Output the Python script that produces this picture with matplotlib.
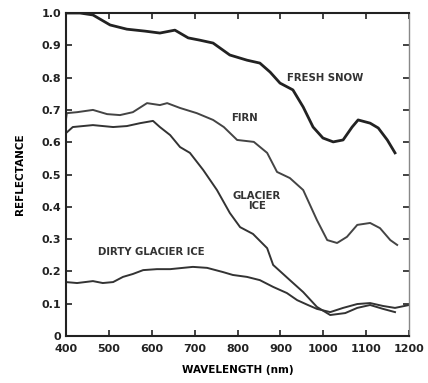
import numpy as np
import matplotlib
matplotlib.use('Agg')
import matplotlib.pyplot as plt

# Spectral reflectance curves
snow_wl = [400, 433, 463, 503, 542, 584, 619, 654, 685, 712, 743, 782, 822, 852, 876,
           899, 929, 953, 976, 999, 1023, 1046, 1067, 1081, 1109, 1128, 1149, 1167]
snow_r = [1.0, 1.0, 0.994, 0.963, 0.950, 0.944, 0.938, 0.947, 0.923, 0.916, 0.907, 0.870,
          0.854, 0.845, 0.817, 0.783, 0.762, 0.709, 0.647, 0.613, 0.601, 0.607, 0.647,
          0.669, 0.659, 0.644, 0.607, 0.567]

firn_wl = [400, 402, 426, 463, 496, 526, 556, 589, 619, 636, 666, 705, 743, 768, 799,
           838, 869, 892, 922, 953, 985, 1009, 1032, 1055, 1079, 1109, 1132, 1156, 1172]
firn_r = [0.669, 0.690, 0.693, 0.700, 0.687, 0.684, 0.693, 0.721, 0.715, 0.721, 0.706,
          0.690, 0.669, 0.647, 0.607, 0.601, 0.567, 0.508, 0.489, 0.452, 0.359, 0.297,
          0.288, 0.307, 0.344, 0.350, 0.334, 0.297, 0.282]

ice_wl = [400, 416, 463, 510, 542, 573, 603, 619, 643, 666, 689, 720, 752, 782, 806,
          836, 869, 883, 922, 953, 985, 1016, 1051, 1079, 1109, 1139, 1167]
ice_r = [0.628, 0.647, 0.653, 0.647, 0.650, 0.659, 0.666, 0.647, 0.622, 0.585, 0.567,
         0.514, 0.452, 0.381, 0.337, 0.316, 0.272, 0.220, 0.173, 0.136, 0.090, 0.065,
         0.071, 0.087, 0.096, 0.084, 0.074]

dirty_wl = [400, 426, 463, 486, 510, 533, 556, 580, 612, 643, 673, 696, 729, 766, 789,
            822, 852, 883, 915, 939, 964, 985, 1016, 1046, 1079, 1109, 1139, 1167, 1200]
dirty_r = [0.167, 0.164, 0.170, 0.164, 0.167, 0.183, 0.192, 0.204, 0.207, 0.207, 0.211,
           0.214, 0.211, 0.198, 0.189, 0.183, 0.173, 0.152, 0.133, 0.111, 0.096, 0.084,
           0.074, 0.087, 0.099, 0.102, 0.093, 0.087, 0.096]

labels = ['FRESH SNOW', 'FIRN', 'GLACIER\nICE', 'DIRTY GLACIER ICE']
label_pos = [(1004, 0.80), (817, 0.675), (845, 0.418), (600, 0.26)]

x_ticks = [400, 500, 600, 700, 800, 900, 1000, 1100, 1200]
y_ticks = [0, 0.1, 0.2, 0.3, 0.4, 0.5, 0.6, 0.7, 0.8, 0.9, 1.0]
y_labels = ['0', '0.1', '0.2', '0.3', '0.4', '0.5', '0.6', '0.7', '0.8', '0.9', '1.0']

fig = plt.figure(figsize=(4.28, 3.83), dpi=100)
ax = fig.add_axes([0.154, 0.1227, 0.802, 0.8433])

ax.plot(snow_wl, snow_r, color='#222222', lw=2.0)
ax.plot(firn_wl, firn_r, color='#444444', lw=1.4)
ax.plot(ice_wl, ice_r, color='#333333', lw=1.4)
ax.plot(dirty_wl, dirty_r, color='#333333', lw=1.4)

for txt, (x, y) in zip(labels, label_pos):
    ax.text(x, y, txt, ha='center', va='center', fontsize=7.3,
            fontweight='bold', color='#333333', linespacing=1.1)

ax.set_xlim(400, 1200)
ax.set_ylim(0, 1.0)
ax.set_xticks(x_ticks)
ax.set_yticks(y_ticks)
ax.set_yticklabels(y_labels)
ax.tick_params(direction='in', length=4, width=1.2, labelsize=8, colors='#222222',
               top=True, right=True)
ax.tick_params(axis='x', pad=6)
for lab in ax.get_xticklabels() + ax.get_yticklabels():
    lab.set_fontweight('bold')

for side in ['left', 'bottom', 'top']:
    ax.spines[side].set_linewidth(1.5)
    ax.spines[side].set_color('#222222')
ax.spines['right'].set_linewidth(1.0)
ax.spines['right'].set_color('#888888')

ax.set_xlabel('WAVELENGTH (nm)', fontsize=7.5, fontweight='bold', labelpad=8)
ax.set_ylabel('REFLECTANCE', fontsize=7.5, fontweight='bold', labelpad=12)

fig.savefig('out.png', dpi=100, facecolor='white')
